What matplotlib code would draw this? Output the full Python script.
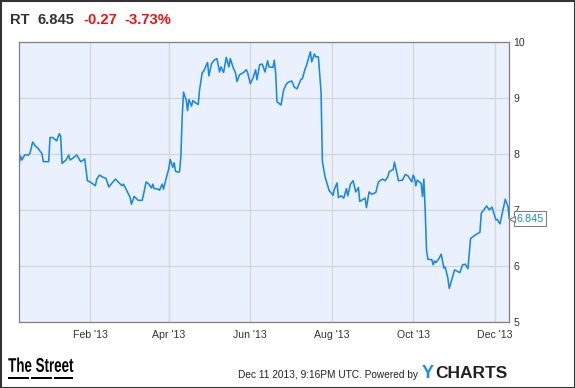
import numpy as np
import pandas as pd
import matplotlib
matplotlib.use("Agg")
import matplotlib.pyplot as plt
import matplotlib.dates as mdates
from matplotlib.patches import Rectangle, PathPatch
from matplotlib.textpath import TextPath
from matplotlib.font_manager import FontProperties
from matplotlib.transforms import Affine2D

# RT closing price (days counted from 2012-12-10)
start = pd.Timestamp("2012-12-10")
days = [0, 1, 2, 4, 7, 8, 10, 12, 14, 17, 18, 22, 23, 25, 28, 30, 31, 32, 35, 37,
        38, 40, 43, 46, 48, 49, 51, 53, 57, 58, 60, 63, 65, 67, 72, 74, 77, 78, 81, 83,
        84, 86, 87, 89, 92, 93, 95, 97, 99, 100, 101, 104, 105, 107, 108, 110, 112, 113, 115, 116,
        117, 119, 120, 121, 122, 123, 125, 126, 127, 129, 130, 132, 134, 135, 137, 138, 141, 142, 144, 146,
        148, 150, 151, 153, 155, 157, 158, 160, 162, 163, 165, 168, 170, 171, 173, 175, 177, 178, 180, 182,
        184, 186, 187, 190, 191, 192, 193, 196, 198, 200, 201, 204, 206, 208, 211, 212, 214, 215, 218, 219,
        221, 222, 224, 226, 227, 229, 232, 235, 236, 238, 239, 241, 243, 245, 246, 248, 250, 252, 254, 255,
        259, 260, 262, 264, 267, 269, 272, 274, 276, 277, 280, 281, 284, 287, 289, 291, 294, 295, 296, 297,
        298, 301, 302, 303, 304, 305, 306, 309, 310, 311, 312, 314, 316, 318, 319, 321, 322, 324, 326, 330,
        332, 334, 336, 338, 342, 345, 346, 348, 350, 352, 354, 357, 358, 360, 362, 364, 366, 367]
price = [7.83, 7.96, 7.89, 7.98, 7.98, 8.01, 8.21, 8.14, 8.10, 8.00, 7.86, 7.86, 8.29, 8.29, 8.23, 8.36, 8.31, 7.83, 7.89, 7.98,
         7.89, 7.92, 7.98, 7.86, 7.89, 7.91, 7.52, 7.50, 7.43, 7.55, 7.62, 7.58, 7.56, 7.41, 7.55, 7.50, 7.43, 7.46, 7.32, 7.22,
         7.10, 7.24, 7.22, 7.17, 7.17, 7.27, 7.50, 7.46, 7.39, 7.46, 7.38, 7.37, 7.35, 7.46, 7.37, 7.56, 7.74, 7.90, 7.76, 7.84,
         7.69, 7.67, 7.68, 7.95, 8.66, 9.10, 8.96, 8.77, 8.97, 8.85, 8.95, 8.91, 8.88, 9.14, 9.45, 9.47, 9.63, 9.39, 9.61, 9.67,
         9.70, 9.46, 9.55, 9.45, 9.72, 9.55, 9.70, 9.55, 9.44, 9.29, 9.41, 9.45, 9.50, 9.45, 9.25, 9.35, 9.50, 9.32, 9.59, 9.60,
         9.46, 9.66, 9.55, 9.54, 9.67, 9.44, 8.93, 8.87, 9.14, 9.24, 9.27, 9.30, 9.19, 9.16, 9.33, 9.34, 9.51, 9.57, 9.82, 9.64,
         9.78, 9.73, 9.73, 9.11, 7.86, 7.59, 7.35, 7.26, 7.37, 7.48, 7.22, 7.25, 7.21, 7.38, 7.25, 7.46, 7.52, 7.32, 7.40, 7.15,
         7.21, 7.04, 7.32, 7.28, 7.31, 7.50, 7.55, 7.52, 7.59, 7.68, 7.72, 7.85, 7.52, 7.53, 7.63, 7.61, 7.50, 7.62, 7.57, 7.43,
         7.53, 7.47, 7.24, 7.55, 7.00, 6.28, 6.12, 6.11, 6.02, 6.09, 6.06, 6.12, 6.21, 5.96, 5.98, 5.78, 5.60, 5.76, 5.93, 5.88,
         6.02, 6.03, 5.95, 6.49, 6.56, 6.60, 6.94, 7.00, 7.07, 7.00, 7.05, 6.82, 6.83, 6.75, 6.97, 7.19, 7.06, 6.845]
dates = start + pd.to_timedelta(days, unit="D")

ticker = "RT"
last = "6.845"
change = "-0.27"
change_pct = "-3.73%"
yticks = [5, 6, 7, 8, 9, 10]
xtick_dates = pd.to_datetime(["2013-02-01", "2013-04-01", "2013-06-01",
                              "2013-08-01", "2013-10-01", "2013-12-01"])

plt.rcParams['font.family'] = ['Liberation Sans', 'DejaVu Sans']

W, H = 575, 388
fig = plt.figure(figsize=(W/100, H/100), dpi=100)
ax = fig.add_axes([19.3/W, 66/H, 490/W, 280.3/H])
ax.set_facecolor("#eaf1fc")

ax.plot(dates, price, color="#1a88e6", lw=1.15, solid_joinstyle="round")

ax.set_xlim(dates[0], dates[-1])
ax.set_ylim(5, 10)
ax.set_yticks(yticks)
ax.yaxis.tick_right()
ax.set_xticks(xtick_dates)
ax.xaxis.set_major_formatter(mdates.DateFormatter("%b '%y"))
ax.tick_params(length=0, labelsize=7.6, colors="#333333")
ax.tick_params(axis="x", pad=6)
ax.tick_params(axis="y", pad=3)
ax.grid(True, color="#d6d6d6", lw=0.9)
ax.set_axisbelow(True)
for s in ax.spines.values():
    s.set_color("#808080")
    s.set_linewidth(0.9)

# last price flag with a little pointer
ax.annotate(last, xy=(dates[-1], price[-1]), xytext=(5, 0), textcoords="offset points",
            ha="left", va="center", fontsize=7.8, color="#1a88e6", zorder=10,
            bbox=dict(boxstyle="square,pad=0.22", fc="white", ec="#808080", lw=0.8),
            annotation_clip=False)
ax.plot([dates[-1]], [price[-1]], marker="<", ms=5, mfc="white", mec="#808080", mew=0.8,
        clip_on=False, zorder=11, transform=ax.transData + Affine2D().translate(2.5, 0))

# header
hy = 1 - 20/H
fig.text(10/W, hy, ticker, fontsize=10.6, fontweight="bold", color="#333333", va="center")
fig.text(38/W, hy, last, fontsize=10.6, fontweight="bold", color="#333333", va="center")
fig.text(83/W, hy, change, fontsize=10.6, fontweight="bold", color="#ee1111", va="center")
fig.text(124/W, hy, change_pct, fontsize=10.6, fontweight="bold", color="#ee1111", va="center")

# footer: condensed "The Street" logo
tp = TextPath((0, 0), "The Street", size=20,
              prop=FontProperties(family="Liberation Sans", weight="bold"))
ext = tp.get_extents()
sx = 65 / ext.width
sy = 14.5 / ext.height
logo = PathPatch(tp, fc="black", ec="none",
                 transform=Affine2D().translate(-ext.x0, -ext.y0).scale(sx, sy).translate(8.3, H - 372))
fig.add_artist(logo)
for x0, x1 in [(8.3, 29), (31, 52), (54, 73)]:
    fig.add_artist(Rectangle((x0/W, 1 - 379/H), (x1 - x0)/W, 2/H,
                             transform=fig.transFigure, color="black", lw=0))
fig.text(418/W, 1 - 375/H, "Dec 11 2013, 9:16PM UTC. Powered by", fontsize=7.3,
         color="#222222", ha="right", va="center")
fig.text(422/W, 1 - 374/H, "Y", fontsize=13, fontweight="bold", color="#1a8fe0", va="center")
fig.text(435/W, 1 - 374/H, "CHARTS", fontsize=12.5, fontweight="bold", color="#222222", va="center")

# outer frame
fig.add_artist(Rectangle((0.5/W, 0.5/H), 574/W, 387/H, transform=fig.transFigure,
                         fill=False, ec="#333333", lw=1.5))

fig.savefig("out.png", dpi=100)
